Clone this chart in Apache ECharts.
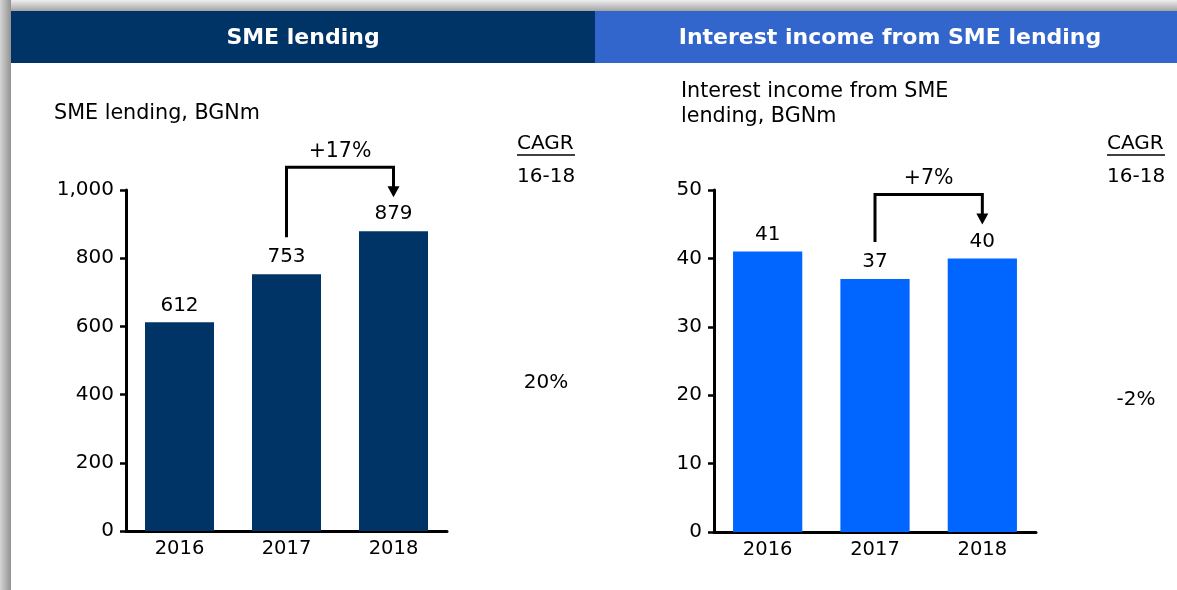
<!DOCTYPE html>
<html>
<head>
<meta charset="utf-8">
<title>SME lending</title>
<script src="https://cdn.jsdelivr.net/npm/echarts@6/dist/echarts.min.js"></script>
<style>
  html, body { margin: 0; padding: 0; background: #fff; }
  #chart { width: 1177px; height: 590px; }
</style>
</head>
<body>
<div id="chart"></div>
<script>
// ---- data ----
const categories = ['2016', '2017', '2018'];
const lendingValues = [612, 753, 879];          // BGNm
const incomeValues = [41, 37, 40];              // BGNm
const lendingAxis = { min: 0, max: 1000, interval: 200 };
const incomeAxis = { min: 0, max: 50, interval: 10 };
const panelTitles = ['SME lending', 'Interest income from SME lending'];
const subtitles = [['SME lending, BGNm'], ['Interest income from SME', 'lending, BGNm']];
const growthLabels = ['+17%', '+7%'];           // 2017 -> 2018
const cagrHeader = ['CAGR', '16-18'];
const cagrValues = ['20%', '-2%'];

// ---- style ----
const FONT = '"DejaVu Sans", Verdana, sans-serif';
const NAVY = '#003366';
const BLUE_HEAD = '#3366cc';
const BLUE_BAR = '#0066ff';

const chart = echarts.init(document.getElementById('chart'), null, { renderer: 'canvas' });

function xAxisFor(gridIndex) {
  return {
    type: 'category', gridIndex, data: categories,
    axisLine: { lineStyle: { color: '#000', width: 3 } },
    axisTick: { show: false },
    axisLabel: { color: '#000', fontSize: 19.5, fontFamily: FONT, margin: 8 }
  };
}
function yAxisFor(gridIndex, ax) {
  return {
    type: 'value', gridIndex, min: ax.min, max: ax.max, interval: ax.interval,
    splitLine: { show: false },
    axisLine: { show: true, lineStyle: { color: '#000', width: 3 } },
    axisTick: { show: true, length: 6, lineStyle: { color: '#000', width: 2.5 } },
    axisLabel: {
      color: '#000', fontSize: 20, fontFamily: FONT, margin: 12,
      formatter: v => v.toLocaleString('en-US')
    }
  };
}
function barSeries(idx, values, color) {
  return {
    type: 'bar', xAxisIndex: idx, yAxisIndex: idx, data: values,
    barCategoryGap: '35.5%',
    itemStyle: { color },
    label: { show: true, position: 'top', distance: 7, color: '#000', fontSize: 20, fontFamily: FONT },
    silent: true
  };
}

chart.setOption({
  animation: false,
  backgroundColor: '#fff',
  grid: [
    { left: 126, top: 190, width: 321, height: 341 },
    { left: 714, top: 190, width: 322, height: 342 }
  ],
  xAxis: [xAxisFor(0), xAxisFor(1)],
  yAxis: [yAxisFor(0, lendingAxis), yAxisFor(1, incomeAxis)],
  series: [
    barSeries(0, lendingValues, NAVY),
    barSeries(1, incomeValues, BLUE_BAR)
  ]
});

// ---- decorations: frame, headers, captions, growth brackets ----
function text(str, x, y, opts) {
  opts = opts || {};
  return {
    type: 'text', x, y, silent: true, z: 10,
    style: {
      text: str,
      font: (opts.weight || 'normal') + ' ' + (opts.size || 20) + 'px ' + FONT,
      textAlign: opts.align || 'left', align: opts.align || 'left',
      textVerticalAlign: 'middle', verticalAlign: 'middle',
      fill: opts.color || '#000'
    }
  };
}

function bracket(seriesIndex, values, label) {
  const from = chart.convertToPixel({ seriesIndex }, [1, values[1]]);
  const to = chart.convertToPixel({ seriesIndex }, [2, values[2]]);
  const stemBottom = from[1] - 37;
  const tip = to[1] - 34;
  const top = Math.min(stemBottom, tip) - 30;
  const head = 11;
  return [
    {
      type: 'polyline', silent: true, z: 10,
      shape: { points: [[from[0], stemBottom], [from[0], top], [to[0], top], [to[0], tip - head + 1]] },
      style: { stroke: '#000', lineWidth: 3, fill: null }
    },
    {
      type: 'polygon', silent: true, z: 10,
      shape: { points: [[to[0] - 6, tip - head], [to[0] + 6, tip - head], [to[0], tip]] },
      style: { fill: '#000' }
    },
    text(label, (from[0] + to[0]) / 2, top - 16, { align: 'center', size: 20.5 })
  ];
}

const graphics = [
  // frame shading
  {
    type: 'rect', silent: true, z: 1, shape: { x: 0, y: 0, width: 1177, height: 11 },
    style: { fill: new echarts.graphic.LinearGradient(0, 0, 0, 1, [
      { offset: 0, color: '#eeeeee' }, { offset: 1, color: '#a4a4a4' }]) }
  },
  {
    type: 'rect', silent: true, z: 2, shape: { x: 0, y: 0, width: 11, height: 590 },
    style: { fill: new echarts.graphic.LinearGradient(0, 0, 1, 0, [
      { offset: 0, color: '#d4d4d4' }, { offset: 1, color: '#929292' }]) }
  },
  // panel headers
  { type: 'rect', silent: true, z: 3, shape: { x: 11, y: 11, width: 584, height: 52 }, style: { fill: NAVY } },
  { type: 'rect', silent: true, z: 3, shape: { x: 595, y: 11, width: 582, height: 52 }, style: { fill: BLUE_HEAD } },
  text(panelTitles[0], 303, 38, { align: 'center', weight: 'bold', size: 22, color: '#fff' }),
  text(panelTitles[1], 890, 38, { align: 'center', weight: 'bold', size: 22, color: '#fff' }),
  // chart captions
  text(subtitles[0][0], 54, 114, { size: 20.7 }),
  text(subtitles[1][0], 681, 92, { size: 20.7 }),
  text(subtitles[1][1], 681, 117, { size: 20.7 }),
  // CAGR columns
  text(cagrHeader[0], 517, 144),
  { type: 'line', silent: true, z: 10, shape: { x1: 517, y1: 155, x2: 575, y2: 155 }, style: { stroke: '#000', lineWidth: 1.5 } },
  text(cagrHeader[1], 517, 177),
  text(cagrValues[0], 546, 383, { align: 'center' }),
  text(cagrHeader[0], 1107, 144),
  { type: 'line', silent: true, z: 10, shape: { x1: 1107, y1: 155, x2: 1165, y2: 155 }, style: { stroke: '#000', lineWidth: 1.5 } },
  text(cagrHeader[1], 1107, 177),
  text(cagrValues[1], 1136, 400, { align: 'center' })
]
  .concat(bracket(0, lendingValues, growthLabels[0]))
  .concat(bracket(1, incomeValues, growthLabels[1]));

chart.setOption({ graphic: graphics });
</script>
</body>
</html>
